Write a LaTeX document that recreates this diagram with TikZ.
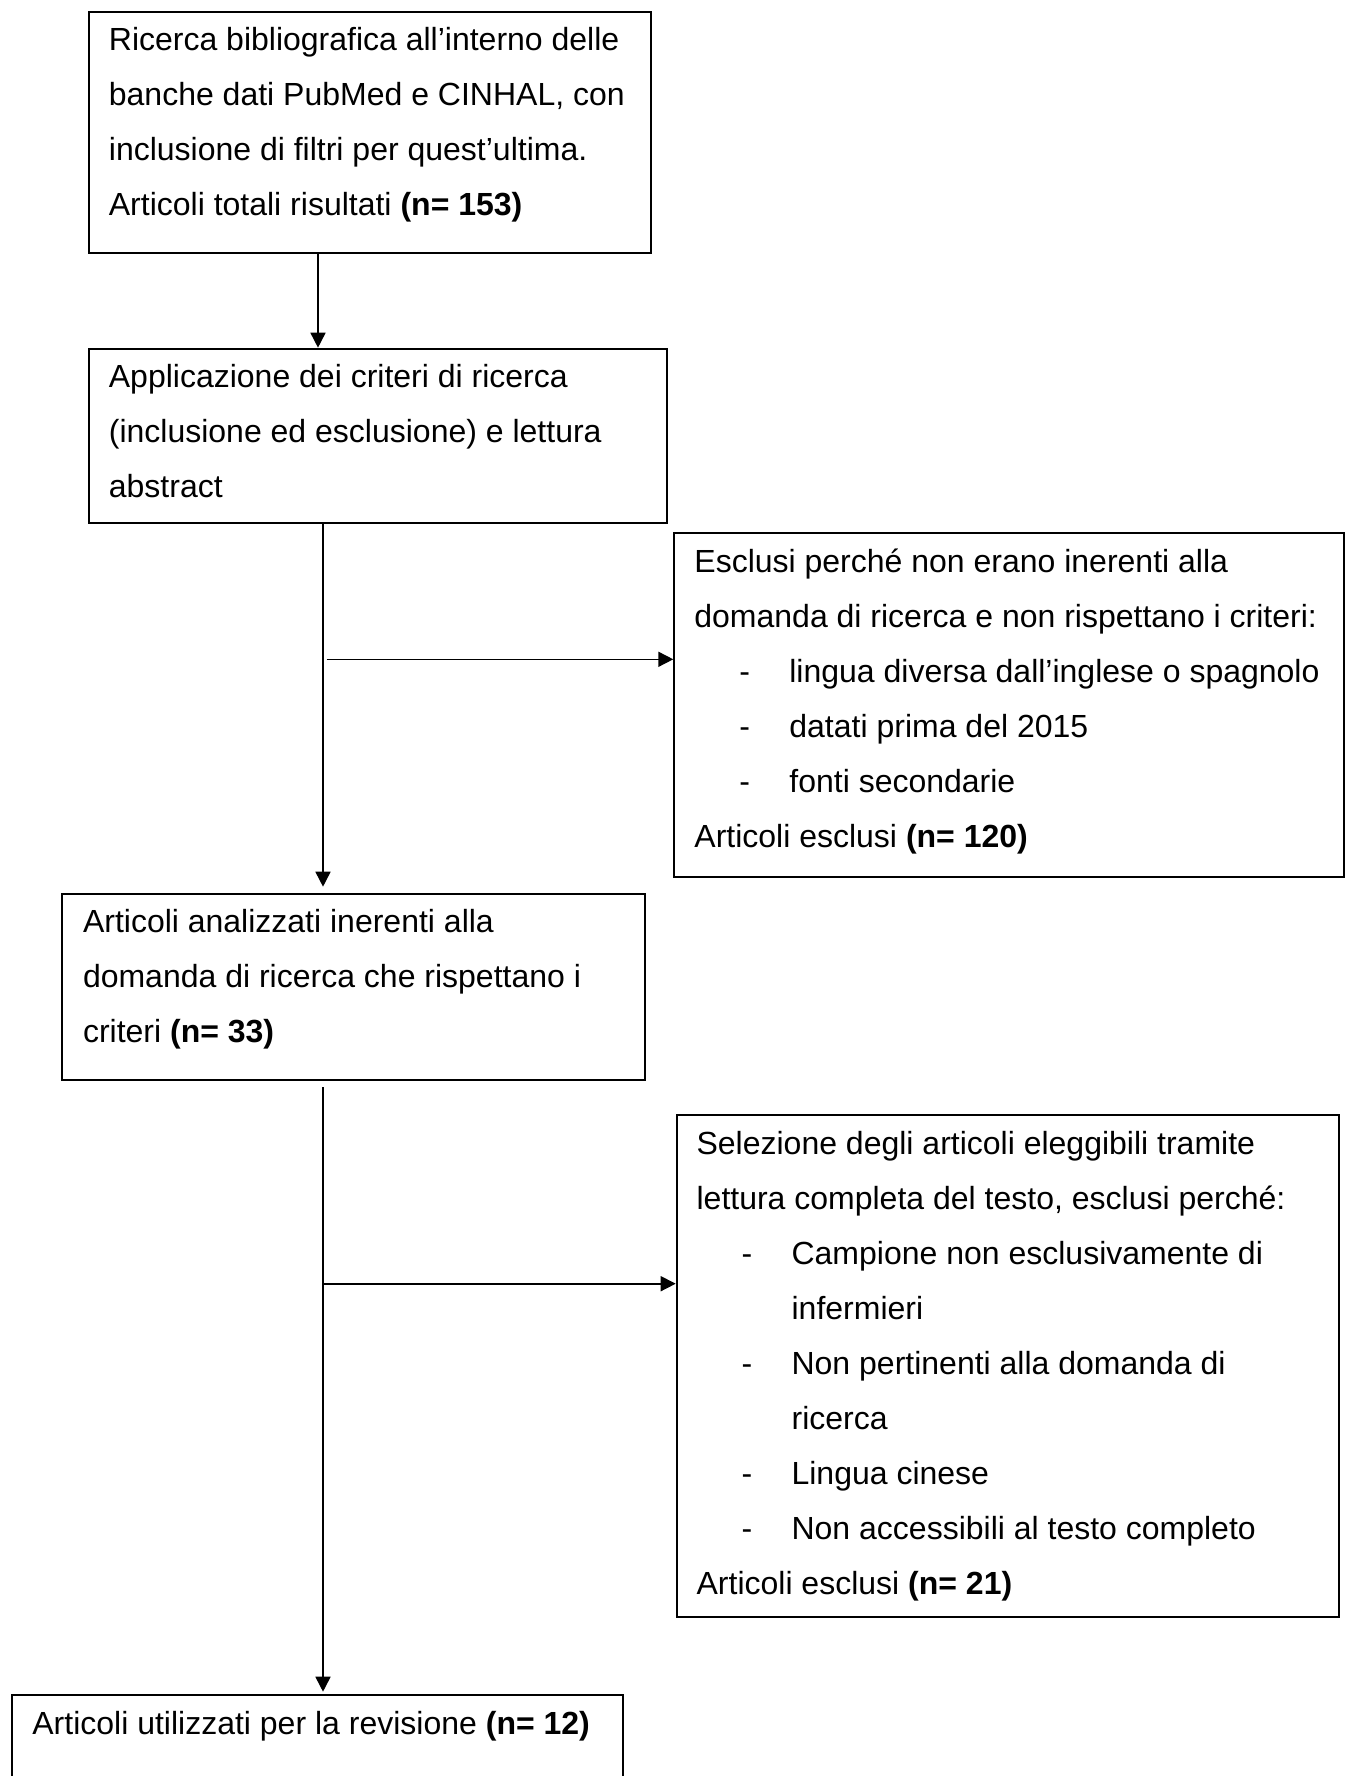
\documentclass[tikz,border=0pt]{standalone}
\usepackage{fontspec}
\setmainfont{Liberation Sans}
\usetikzlibrary{arrows.meta}
\newcommand\bxfont{\fontsize{16pt}{27.5pt}\selectfont}
\newcommand\dashitem[1]{\hspace*{22.5pt}\makebox[25pt][l]{-}#1}
\newcommand\contitem[1]{\hspace*{47.5pt}#1}
\tikzset{
  box/.style={draw=black, line width=1pt, rectangle, anchor=north west, inner sep=0pt},
  txt/.style={anchor=base west, inner sep=0pt, align=left},
  arr/.style={draw=black, line width=0.8pt, -{Triangle[length=7.5pt,width=7.5pt]}},
}
\begin{document}
\begin{tikzpicture}[x=0.5pt,y=-0.5pt]
\path[use as bounding box] (0,0) rectangle (1345,1776);
\fill[white] (0,0) rectangle (1345,1776);
\clip (0,0) rectangle (1345,1776);
% boxes
\node[box, minimum width=281pt, minimum height=120.8pt] (b1) at (88,10.7) {};
\node[box, minimum width=289pt, minimum height=87.15pt] (b2) at (88,347.7) {};
\node[box, minimum width=335pt, minimum height=171.7pt] (b3) at (673.3,532.3) {};
\node[box, minimum width=291.4pt, minimum height=93.3pt] (b4) at (61.2,892.7) {};
\node[box, minimum width=331.15pt, minimum height=250.85pt] (b5) at (675.7,1114.3) {};
\node[box, minimum width=305.35pt, minimum height=60pt] (b6) at (11,1694.3) {};
% texts
\node[txt] (t1) at (108.5,50.7) {\parbox[t]{300pt}{\raggedright\bxfont
Ricerca bibliografica all’interno delle\\
banche dati PubMed e CINHAL, con\\
inclusione di filtri per quest’ultima.\\
Articoli totali risultati \textbf{(n= 153)}}};
\node[txt] (t2) at (108.5,387.7) {\parbox[t]{300pt}{\raggedright\bxfont
Applicazione dei criteri di ricerca\\
(inclusione ed esclusione) e lettura\\
abstract}};
\node[txt] (t3) at (694,572.3) {\parbox[t]{330pt}{\raggedright\bxfont
Esclusi perché non erano inerenti alla\\
domanda di ricerca e non rispettano i criteri:\\
\dashitem{lingua diversa dall’inglese o spagnolo}\\
\dashitem{datati prima del 2015}\\
\dashitem{fonti secondarie}\\
Articoli esclusi \textbf{(n= 120)}}};
\node[txt] (t4) at (82.6,932.7) {\parbox[t]{300pt}{\raggedright\bxfont
Articoli analizzati inerenti alla\\
domanda di ricerca che rispettano i\\
criteri \textbf{(n= 33)}}};
\node[txt] (t5) at (696.2,1154.3) {\parbox[t]{330pt}{\raggedright\bxfont
Selezione degli articoli eleggibili tramite\\
lettura completa del testo, esclusi perché:\\
\dashitem{Campione non esclusivamente di}\\
\contitem{infermieri}\\
\dashitem{Non pertinenti alla domanda di}\\
\contitem{ricerca}\\
\dashitem{Lingua cinese}\\
\dashitem{Non accessibili al testo completo}\\
Articoli esclusi \textbf{(n= 21)}}};
\node[txt] (t6) at (32,1734.3) {\parbox[t]{300pt}{\raggedright\bxfont
Articoli utilizzati per la revisione \textbf{(n= 12)}}};
% connector helpers
\coordinate (a1x) at (318,0);
\coordinate (sp) at (323,0);
\coordinate (j1) at (326.7,659.3);
\coordinate (j2) at (323,1283.7);
% connectors
\draw[arr] (b1.south -| a1x) -- (b2.north -| a1x);
\draw[arr, shorten >=3pt] (b2.south -| sp) -- (b4.north -| sp);
\draw[arr] (j1) -- (j1 -| b3.west);
\draw[arr, shorten <=3pt, shorten >=1.3pt] (b4.south -| sp) -- (b6.north -| sp);
\draw[arr] (j2) -- (j2 -| b5.west);
\end{tikzpicture}
\end{document}
